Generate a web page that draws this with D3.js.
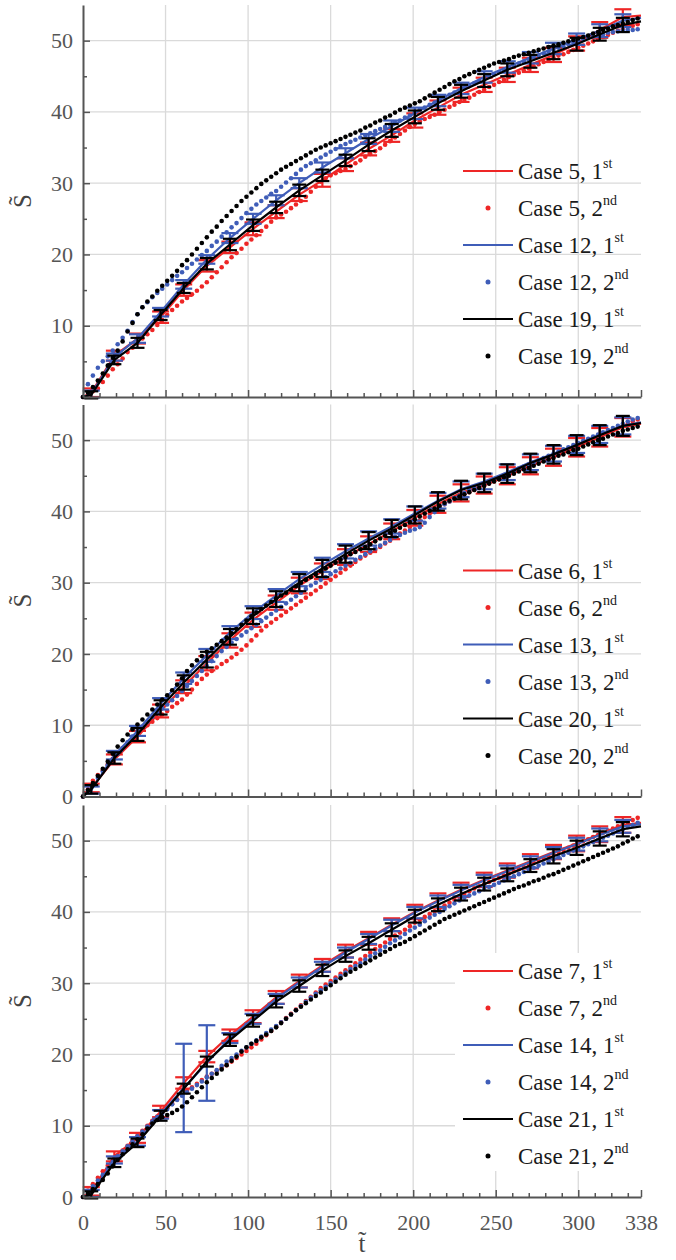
<!DOCTYPE html>
<html>
<head>
<meta charset="utf-8">
<script src="https://cdn.jsdelivr.net/npm/d3@7"></script>
<style>
  body { margin: 0; background: #fff; }
  svg { display: block; }
</style>
</head>
<body>
<script>
// time of the "1st" curves (error bars sit on every point except the two ends)
const tLine = [0, 5, 19, 33, 47, 61, 75, 89, 103, 117, 131, 145, 159, 173, 187, 201, 215, 229, 243, 257, 271, 285, 299, 313, 327, 338];
// time of the "2nd" dots
const tDots = [0,3,6,9,12,15,18,21,24,27,30,33,36,39,42,45,48,51,54,57,60,63,66,69,72,75,78,81,84,87,90,93,96,99,102,105,108,111,114,117,120,123,126,129,132,135,138,141,144,147,150,153,156,159,162,165,168,171,174,177,180,183,186,189,192,195,198,201,204,207,210,213,216,219,222,225,228,231,234,237,240,243,246,249,252,255,258,261,264,267,270,273,276,279,282,285,288,291,294,297,300,303,306,309,312,315,318,321,324,327,330,333,336];

const xTicks = [0, 50, 100, 150, 200, 250, 300, 338];
const xGrid = [50, 100, 150, 200, 250, 300];
const xMinor = [10, 20, 30, 40, 60, 70, 80, 90, 110, 120, 130, 140, 160, 170, 180, 190, 210, 220, 230, 240, 260, 270, 280, 290, 310, 320, 330];
const yTicks = [0, 10, 20, 30, 40, 50];
const yMinor = [5, 15, 25, 35, 45];

// ---- panel 1 : cases 5, 12, 19
const case5Line  = [0,0.6,5.8,8.2,11.2,15.0,18.4,21.0,23.6,26.0,28.4,30.4,32.6,34.8,36.7,38.8,40.6,42.4,43.8,45.2,46.6,48.0,49.6,51.5,53.3,53.5];
const case5Err   = [0,0.6,0.7,0.7,0.8,0.8,0.8,0.8,0.9,0.9,0.9,0.9,0.9,0.9,0.9,1.0,1.0,1.0,1.0,1.0,1.0,1.0,1.0,1.1,1.1,0];
const case12Line = [0,0.4,5.6,8.2,11.9,15.8,19.3,22.3,25.0,27.6,30.0,32.2,34.2,36.2,38.0,39.8,41.6,43.3,44.9,46.3,47.6,48.9,50.2,51.4,52.8,53.2];
const case12Err  = [0,0.5,0.5,0.6,0.6,0.6,0.6,0.7,0.7,0.7,0.7,0.7,0.7,0.7,0.8,0.8,0.8,0.8,0.8,0.8,0.8,0.8,0.8,0.9,0.9,0];
const case19Line = [0,0.3,5.2,7.6,11.5,15.3,18.7,21.4,24.1,26.6,29.0,31.1,33.2,35.4,37.4,39.3,41.2,42.9,44.4,45.9,47.1,48.3,49.5,50.9,52.2,52.7];
const case19Err  = [0,0.5,0.6,0.7,0.7,0.7,0.8,0.8,0.8,0.8,0.8,0.8,0.8,0.9,0.9,0.9,0.9,0.9,0.9,0.9,0.9,0.9,0.9,0.9,1.0,0];

const case5Dots = [0,0.3,0.8,1.2,2.1,3.0,3.9,4.6,5.4,6.3,
  6.9,7.6,8.2,8.8,9.4,10.1,10.8,11.5,12.2,12.8,
  13.4,13.9,14.4,14.9,15.5,16.1,16.8,17.5,18.2,18.9,
  19.6,20.2,20.8,21.5,22.1,22.7,23.3,23.9,24.6,25.2,
  25.6,26.0,26.5,27.0,27.5,28.1,28.8,29.5,30.2,30.7,
  31.1,31.4,31.7,32.0,32.4,32.8,33.2,33.7,34.1,34.5,
  34.9,35.4,35.9,36.4,36.9,37.4,37.9,38.3,38.7,39.0,
  39.3,39.6,40.0,40.3,40.7,41.0,41.4,41.7,42.0,42.4,
  42.8,43.1,43.5,43.8,44.2,44.5,44.9,45.2,45.5,45.8,
  46.1,46.4,46.7,47.0,47.3,47.6,47.9,48.1,48.4,48.7,
  49.0,49.3,49.6,49.9,50.2,50.5,50.8,51.1,51.4,51.6,
  51.9,52.1,52.3];
const case12Dots = [0,1.8,3.0,4.1,5.0,5.7,6.5,7.4,8.3,9.3,
  10.5,11.6,12.6,13.3,14.0,14.6,15.2,15.8,16.4,17.0,
  17.5,18.1,18.7,19.3,19.9,20.5,21.2,21.8,22.5,23.1,
  23.8,24.4,25.1,25.8,26.4,27.0,27.5,28.0,28.5,28.9,
  29.5,30.1,30.7,31.3,31.9,32.4,32.8,33.2,33.6,34.0,
  34.4,34.8,35.2,35.5,35.8,36.1,36.4,36.7,37.0,37.3,
  37.6,37.9,38.2,38.5,38.8,39.2,39.5,39.9,40.3,40.6,
  41.0,41.3,41.7,42.0,42.4,42.7,43.0,43.4,43.7,44.0,
  44.3,44.6,45.0,45.3,45.6,45.9,46.2,46.5,46.8,47.1,
  47.4,47.6,47.9,48.2,48.5,48.7,49.0,49.2,49.5,49.7,
  50.0,50.2,50.4,50.6,50.8,50.9,51.1,51.2,51.3,51.4,
  51.5,51.5,51.6];
const case19Dots = [0,0.6,1.4,2.3,3.3,4.4,5.5,6.5,7.8,9.2,
  10.4,11.6,12.6,13.4,14.1,14.9,15.6,16.3,17.0,17.7,
  18.5,19.2,20.0,20.8,21.6,22.4,23.2,23.9,24.7,25.4,
  26.1,26.8,27.5,28.1,28.7,29.3,29.9,30.4,30.9,31.4,
  31.9,32.3,32.7,33.1,33.5,33.9,34.3,34.7,35.0,35.3,
  35.6,35.9,36.2,36.5,36.8,37.1,37.4,37.8,38.1,38.5,
  38.8,39.2,39.5,39.9,40.3,40.6,40.9,41.2,41.5,41.9,
  42.3,42.7,43.1,43.5,43.9,44.3,44.6,45.0,45.3,45.6,
  45.9,46.2,46.5,46.8,47.0,47.2,47.4,47.7,47.9,48.1,
  48.3,48.5,48.7,48.9,49.1,49.3,49.5,49.7,49.9,50.1,
  50.3,50.5,50.7,51.0,51.2,51.5,51.7,52.0,52.2,52.4,
  52.6,52.9,53.1];

// ---- panel 2 : cases 6, 13, 20
const case6Line  = [0,1.2,5.2,8.4,12.0,15.4,18.7,21.9,24.8,27.2,29.6,31.6,33.6,35.4,37.2,39.1,41.0,42.6,43.7,45.0,46.4,47.6,49.0,50.4,51.8,52.3];
const case6Err   = [0,0.6,0.7,0.8,0.9,0.9,1.0,1.0,1.0,1.0,1.1,1.1,1.1,1.1,1.1,1.1,1.2,1.2,1.2,1.2,1.2,1.2,1.3,1.3,1.3,0];
const case13Line = [0,0.9,5.8,9.2,13.0,16.6,19.8,23.0,25.8,28.2,30.5,32.5,34.4,36.2,37.9,39.7,41.5,43.1,44.2,45.5,46.9,48.1,49.4,50.8,52.0,52.5];
const case13Err  = [0,0.5,0.6,0.7,0.8,0.8,0.9,0.9,0.9,0.9,1.0,1.0,1.0,1.0,1.0,1.0,1.1,1.1,1.1,1.1,1.1,1.1,1.2,1.2,1.2,0];
const case20Line = [0,1.0,5.4,8.7,12.5,16.0,19.2,22.4,25.3,27.7,30.0,32.0,34.0,35.9,37.6,39.5,41.4,43.0,44.0,45.3,46.8,48.0,49.3,50.7,52.0,52.4];
const case20Err  = [0,0.6,0.8,0.9,1.0,1.0,1.1,1.1,1.1,1.1,1.2,1.2,1.2,1.2,1.2,1.2,1.3,1.3,1.3,1.3,1.3,1.3,1.4,1.4,1.4,0];

const case6Dots = [0,1.0,2.2,3.0,3.7,4.5,5.3,6.0,6.8,7.5,
  8.2,8.9,9.5,10.0,10.5,11.0,11.5,12.0,12.6,13.1,
  13.6,14.3,15.0,15.8,16.5,17.1,17.6,18.1,18.6,19.0,
  19.5,20.0,20.6,21.2,21.9,22.6,23.3,23.9,24.4,24.9,
  25.4,25.9,26.4,26.9,27.4,27.9,28.4,28.9,29.4,29.9,
  30.4,30.9,31.4,31.9,32.4,32.9,33.4,33.8,34.2,34.6,
  35.0,35.5,35.9,36.4,36.9,37.3,37.8,38.3,38.7,39.2,
  39.7,40.2,40.6,41.0,41.4,41.8,42.1,42.4,42.7,43.0,
  43.3,43.6,43.9,44.2,44.5,44.8,45.1,45.4,45.7,46.0,
  46.3,46.6,46.9,47.2,47.5,47.8,48.1,48.4,48.7,49.0,
  49.3,49.6,49.9,50.2,50.5,50.8,51.1,51.4,51.7,52.0,
  52.3,52.6,52.9];
const case13Dots = [0,0.8,1.7,2.6,3.5,4.4,5.2,6.0,6.8,7.6,
  8.4,9.1,9.8,10.5,11.2,11.8,12.4,12.9,13.5,14.1,
  14.8,15.5,16.2,16.9,17.6,18.3,19.0,19.7,20.4,21.0,
  21.6,22.1,22.6,23.1,23.6,24.1,24.6,25.1,25.6,26.1,
  26.6,27.1,27.6,28.1,28.6,29.1,29.6,30.0,30.4,30.8,
  31.2,31.6,32.0,32.4,32.8,33.2,33.6,34.0,34.4,34.8,
  35.2,35.6,36.0,36.4,36.7,37.0,37.3,37.5,37.8,38.4,
  39.2,39.9,40.5,41.0,41.4,41.8,42.2,42.6,43.0,43.3,
  43.6,43.9,44.2,44.5,44.8,45.1,45.4,45.7,46.0,46.3,
  46.6,46.9,47.2,47.5,47.8,48.1,48.4,48.7,49.0,49.3,
  49.6,49.9,50.2,50.5,50.8,51.1,51.4,51.7,52.0,52.3,
  52.6,52.9,53.1];
const case20Dots = [0,0.9,1.9,2.9,3.9,4.9,6.0,7.0,7.9,8.7,
  9.4,10.1,10.8,11.5,12.2,12.9,13.6,14.2,14.9,15.7,
  16.6,17.6,18.4,19.1,19.7,20.3,20.8,21.3,21.8,22.3,
  22.9,23.5,24.1,24.7,25.3,25.8,26.3,26.8,27.3,27.8,
  28.2,28.6,29.0,29.5,30.0,30.4,30.8,31.2,31.6,32.0,
  32.4,32.8,33.2,33.6,34.0,34.3,34.7,35.0,35.4,35.8,
  36.2,36.6,37.0,37.3,37.7,38.1,38.5,38.9,39.3,39.7,
  40.1,40.4,40.8,41.2,41.5,41.8,42.1,42.4,42.7,43.0,
  43.3,43.6,43.9,44.2,44.5,44.8,45.0,45.3,45.6,45.9,
  46.1,46.4,46.7,47.0,47.3,47.5,47.8,48.0,48.3,48.6,
  48.8,49.1,49.4,49.7,50.0,50.2,50.5,50.8,51.0,51.3,
  51.5,51.7,51.9];

// ---- panel 3 : cases 7, 14, 21
const case7Line  = [0,0.8,5.7,8.3,12.0,16.0,19.7,22.7,25.3,28.0,30.3,32.5,34.5,36.3,38.2,40.0,41.6,43.1,44.5,45.8,47.1,48.4,49.6,50.9,52.2,52.5];
const case7Err   = [0,0.6,0.7,0.7,0.8,0.8,0.8,0.8,0.9,0.9,0.9,0.9,0.9,0.9,0.9,1.0,1.0,1.0,1.0,1.0,1.0,1.0,1.1,1.1,1.1,0];
const case14Line = [0,0.5,5.2,7.8,11.6,15.3,18.8,22.3,25.0,27.8,30.1,32.3,34.3,36.2,38.1,39.9,41.5,43.0,44.4,45.7,47.0,48.3,49.5,50.8,52.0,52.3];
const case14Err  = [0,0.5,0.5,0.6,0.6,6.2,5.3,0.7,0.7,0.7,0.7,0.7,0.7,0.7,0.8,0.8,0.8,0.8,0.8,0.8,0.8,0.8,0.9,0.9,0.9,0];
const case21Line = [0,0.3,4.8,7.6,11.4,15.2,19.0,22.0,24.7,27.4,29.6,31.8,33.8,35.6,37.5,39.4,41.0,42.5,43.9,45.2,46.5,47.8,49.0,50.3,51.6,52.0];
const case21Err  = [0,0.5,0.6,0.6,0.7,0.7,0.7,0.8,0.8,0.8,0.8,0.8,0.8,0.9,0.9,0.9,0.9,0.9,0.9,0.9,0.9,1.0,1.0,1.0,1.0,0];

const case7Dots = [0,0.9,1.8,2.7,3.6,4.4,5.1,5.8,6.5,7.2,
  7.9,8.6,9.3,10.0,10.7,11.3,11.9,12.5,13.1,13.7,
  14.3,14.9,15.4,15.9,16.4,16.9,17.3,17.7,18.1,18.5,
  19.0,19.5,20.0,20.5,21.0,21.5,22.1,22.7,23.3,23.9,
  24.5,25.1,25.7,26.3,26.9,27.5,28.1,28.7,29.3,29.8,
  30.3,30.8,31.3,31.8,32.3,32.8,33.3,33.8,34.3,34.8,
  35.2,35.7,36.2,36.7,37.1,37.5,38.0,38.5,38.9,39.3,
  39.7,40.1,40.5,40.9,41.3,41.7,42.1,42.5,42.9,43.3,
  43.6,43.9,44.2,44.5,44.8,45.1,45.4,45.7,46.0,46.3,
  46.6,46.9,47.2,47.5,47.8,48.1,48.4,48.7,49.0,49.3,
  49.6,49.9,50.2,50.5,50.8,51.1,51.4,51.7,52.0,52.3,
  52.6,52.9,53.2];
const case14Dots = [0,0.7,1.5,2.3,3.1,4.0,4.9,5.7,6.4,7.1,
  7.8,8.5,9.2,9.9,10.6,11.2,11.8,12.4,13.0,13.6,
  14.2,14.7,15.2,15.7,16.2,16.8,17.3,17.8,18.4,19.0,
  19.5,20.0,20.5,21.0,21.5,22.0,22.5,23.0,23.5,24.0,
  24.5,25.0,25.6,26.2,26.8,27.4,28.0,28.5,29.0,29.5,
  30.0,30.5,31.0,31.5,32.0,32.4,32.8,33.3,33.8,34.2,
  34.6,35.1,35.6,36.0,36.4,36.9,37.4,37.8,38.2,38.7,
  39.2,39.6,40.0,40.4,40.8,41.2,41.6,42.0,42.3,42.6,
  42.9,43.2,43.5,43.8,44.1,44.4,44.7,45.0,45.3,45.6,
  45.9,46.2,46.5,46.8,47.1,47.4,47.7,48.0,48.3,48.6,
  48.9,49.2,49.5,49.8,50.1,50.4,50.7,51.0,51.3,51.6,
  51.9,52.2,52.5];
const case21Dots = [0,0.5,1.1,1.8,2.4,3.3,4.3,5.2,6.0,6.7,
  7.4,8.1,8.8,9.6,10.3,10.8,11.2,11.5,11.8,12.2,
  12.7,13.3,14.0,14.7,15.4,16.1,16.7,17.3,17.9,18.5,
  19.1,19.7,20.4,21.0,21.5,21.9,22.4,22.8,23.3,23.8,
  24.4,25.0,25.6,26.2,26.7,27.2,27.7,28.2,28.7,29.2,
  29.7,30.2,30.7,31.2,31.6,32.0,32.4,32.8,33.2,33.6,
  34.0,34.4,34.8,35.2,35.5,35.8,36.2,36.6,37.0,37.4,
  37.8,38.2,38.6,39.0,39.3,39.6,39.9,40.2,40.5,40.8,
  41.1,41.4,41.7,42.0,42.3,42.6,42.9,43.2,43.5,43.7,
  44.0,44.3,44.5,44.8,45.1,45.3,45.6,45.9,46.2,46.5,
  46.8,47.1,47.4,47.7,48.0,48.3,48.6,48.9,49.2,49.6,
  49.9,50.3,50.6];

const RED = '#ee2626';
const BLUE = '#3f5db8';
const BLACK = '#000000';
const FONT = "'Liberation Serif', 'Times New Roman', Times, 'DejaVu Serif', 'Noto Serif', serif";

const panels = [
  { series: [
      {name: 'Case 5', color: RED, line: case5Line, err: case5Err, dots: case5Dots},
      {name: 'Case 12', color: BLUE, line: case12Line, err: case12Err, dots: case12Dots},
      {name: 'Case 19', color: BLACK, line: case19Line, err: case19Err, dots: case19Dots}],
    zeroLabel: false, xLabels: false, legendBox: false },
  { series: [
      {name: 'Case 6', color: RED, line: case6Line, err: case6Err, dots: case6Dots},
      {name: 'Case 13', color: BLUE, line: case13Line, err: case13Err, dots: case13Dots},
      {name: 'Case 20', color: BLACK, line: case20Line, err: case20Err, dots: case20Dots}],
    zeroLabel: true, xLabels: false, legendBox: false },
  { series: [
      {name: 'Case 7', color: RED, line: case7Line, err: case7Err, dots: case7Dots},
      {name: 'Case 14', color: BLUE, line: case14Line, err: case14Err, dots: case14Dots},
      {name: 'Case 21', color: BLACK, line: case21Line, err: case21Err, dots: case21Dots}],
    zeroLabel: true, xLabels: true, legendBox: true }
];

const WIDTH = 676;
const HEIGHT = 1260;
const MARGIN = {left: 83, right: 35};
const PANEL_TOPS = [5, 404.5, 805];
const PANEL_H = 392;
const AXIS_COLOR = '#555';
const GRID_COLOR = '#dadada';

const SVG = d3.select('body')
  .append('svg')
  .attr('width', WIDTH)
  .attr('height', HEIGHT)
  .attr('font-family', FONT);

const xScale = d3.scaleLinear()
  .domain([0, 338])
  .range([MARGIN.left, WIDTH - MARGIN.right]);

function styleAxis(g) {
  g.attr('font-family', FONT).attr('font-size', null);
  g.select('.domain').attr('stroke', AXIS_COLOR).attr('stroke-width', 2);
  g.selectAll('.tick line').attr('stroke', AXIS_COLOR).attr('stroke-width', 1.5);
  g.selectAll('.tick text').attr('fill', '#555').attr('font-size', 22).attr('font-family', FONT);
}

panels.forEach((p, pi) => {
  const top = PANEL_TOPS[pi];
  const yScale = d3.scaleLinear()
    .domain([0, 55])
    .range([top + PANEL_H, top]);

  const g = SVG.append('g');

  // grid
  g.append('g').selectAll('line').data(xGrid).enter().append('line')
    .attr('x1', d => xScale(d)).attr('x2', d => xScale(d))
    .attr('y1', yScale(0)).attr('y2', yScale(55))
    .attr('stroke', GRID_COLOR).attr('stroke-width', 1.3);
  g.append('g').selectAll('line').data(yTicks.slice(1)).enter().append('line')
    .attr('x1', xScale(0)).attr('x2', xScale(338))
    .attr('y1', d => yScale(d)).attr('y2', d => yScale(d))
    .attr('stroke', GRID_COLOR).attr('stroke-width', 1.3);

  // legend background (only the lowest panel hides the grid)
  if (p.legendBox) {
    g.append('rect')
      .attr('x', 455).attr('y', top + 148)
      .attr('width', xScale(338) - 455).attr('height', 218)
      .attr('fill', '#fff');
  }

  // series
  p.series.forEach(s => {
    const line = d3.line()
      .x((d, i) => xScale(tLine[i]))
      .y(d => yScale(d));

    g.append('path')
      .datum(s.line)
      .attr('d', line)
      .attr('fill', 'none')
      .attr('stroke', s.color)
      .attr('stroke-width', 2.2);

    const cap = s.color === BLACK ? 7 : 8.5;
    const bars = g.append('g')
      .attr('stroke', s.color)
      .attr('stroke-width', 2.2);
    s.line.forEach((v, i) => {
      const e = s.err[i];
      if (!e) return;
      const cx = xScale(tLine[i]);
      bars.append('line')
        .attr('x1', cx).attr('x2', cx)
        .attr('y1', yScale(v - e)).attr('y2', yScale(v + e));
      bars.append('line')
        .attr('x1', cx - cap).attr('x2', cx + cap)
        .attr('y1', yScale(v - e)).attr('y2', yScale(v - e));
      bars.append('line')
        .attr('x1', cx - cap).attr('x2', cx + cap)
        .attr('y1', yScale(v + e)).attr('y2', yScale(v + e));
    });

    g.append('g').selectAll('circle')
      .data(s.dots)
      .enter()
      .append('circle')
      .attr('cx', (d, i) => xScale(tDots[i]))
      .attr('cy', d => yScale(d))
      .attr('r', 2.3)
      .attr('fill', s.color);
  });

  // axes
  const yAxis = d3.axisLeft(yScale)
    .tickValues(p.zeroLabel ? yTicks : yTicks.slice(1))
    .tickSize(-7).tickSizeOuter(0).tickPadding(10);
  g.append('g')
    .attr('transform', 'translate(' + xScale(0) + ',0)')
    .call(yAxis)
    .call(styleAxis);

  const yMinorAxis = d3.axisLeft(yScale)
    .tickValues(yMinor).tickSize(-4).tickFormat('');
  g.append('g')
    .attr('transform', 'translate(' + xScale(0) + ',0)')
    .call(yMinorAxis)
    .call(styleAxis)
    .call(a => a.select('.domain').remove());

  const xAxis = d3.axisBottom(xScale)
    .tickValues(xTicks)
    .tickSize(-7).tickSizeOuter(0).tickPadding(17);
  if (!p.xLabels) xAxis.tickFormat('');
  g.append('g')
    .attr('transform', 'translate(0,' + yScale(0) + ')')
    .call(xAxis)
    .call(styleAxis);

  const xMinorAxis = d3.axisBottom(xScale)
    .tickValues(xMinor).tickSize(-4).tickFormat('');
  g.append('g')
    .attr('transform', 'translate(0,' + yScale(0) + ')')
    .call(xMinorAxis)
    .call(styleAxis)
    .call(a => a.select('.domain').remove());

  // y label
  g.append('text')
    .attr('transform', 'translate(31,' + (top + PANEL_H / 2) + ') rotate(-90)')
    .attr('text-anchor', 'middle')
    .attr('font-size', 25)
    .attr('font-family', FONT)
    .attr('fill', '#444')
    .text('S\u0303');

  // legend
  const legend = g.append('g');
  const rows = [];
  p.series.forEach(s => {
    rows.push({s: s, kind: 'line', ord: 'st'});
    rows.push({s: s, kind: 'dot', ord: 'nd'});
  });
  rows.forEach((r, i) => {
    const ry = top + 166 + i * 37;
    if (r.kind === 'line') {
      legend.append('line')
        .attr('x1', 463).attr('x2', 513)
        .attr('y1', ry).attr('y2', ry)
        .attr('stroke', r.s.color).attr('stroke-width', 2.2);
    } else {
      legend.append('circle')
        .attr('cx', 488).attr('cy', ry)
        .attr('r', 2.5).attr('fill', r.s.color);
    }
    const t = legend.append('text')
      .attr('x', 518).attr('y', ry + 8)
      .attr('font-size', 23)
      .attr('font-family', FONT)
      .attr('fill', '#1a1a1a');
    t.append('tspan').text(r.s.name + ', ' + (r.kind === 'line' ? '1' : '2'));
    t.append('tspan').attr('dy', -11).attr('font-size', 14).text(r.ord);
  });
});

// x label
SVG.append('text')
  .attr('x', xScale(169))
  .attr('y', 1252)
  .attr('text-anchor', 'middle')
  .attr('font-size', 25)
  .attr('font-family', FONT)
  .attr('fill', '#444')
  .text('t\u0303');
</script>
</body>
</html>
